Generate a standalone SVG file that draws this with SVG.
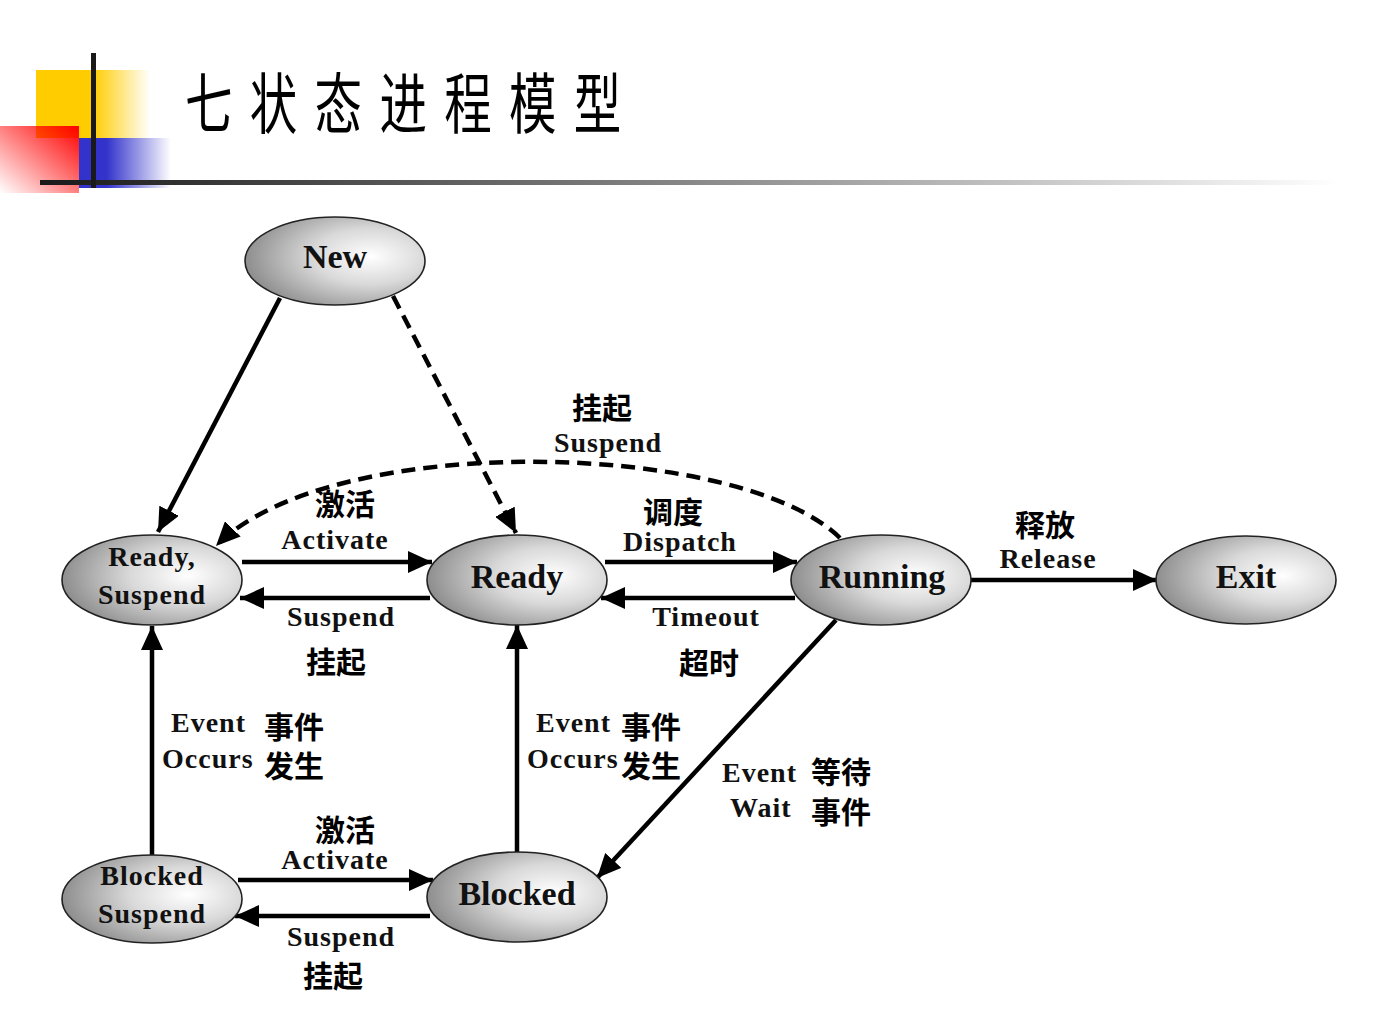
<svg xmlns="http://www.w3.org/2000/svg" width="1382" height="1034" viewBox="0 0 1382 1034">
<defs>
<radialGradient id="eg" cx="0.68" cy="0.45" r="0.7" fx="0.7" fy="0.45">
<stop offset="0" stop-color="#ffffff"/>
<stop offset="0.45" stop-color="#d9d9d9"/>
<stop offset="1" stop-color="#8a8a8a"/>
</radialGradient>
<linearGradient id="yel" x1="0" y1="0" x2="1" y2="0">
<stop offset="0" stop-color="#ffcc00"/>
<stop offset="0.5" stop-color="#ffcc00"/>
<stop offset="1" stop-color="#ffcc00" stop-opacity="0"/>
</linearGradient>
<linearGradient id="blu" x1="0" y1="0" x2="1" y2="0">
<stop offset="0" stop-color="#3333cc"/>
<stop offset="0.3" stop-color="#3333cc"/>
<stop offset="1" stop-color="#3333cc" stop-opacity="0"/>
</linearGradient>
<linearGradient id="red" x1="1" y1="0" x2="0" y2="1">
<stop offset="0" stop-color="#ff0000"/>
<stop offset="1" stop-color="#ff0000" stop-opacity="0"/>
</linearGradient>
<linearGradient id="hl" x1="0" y1="0" x2="1" y2="0">
<stop offset="0" stop-color="#1a1a1a"/>
<stop offset="0.5" stop-color="#888888"/>
<stop offset="1" stop-color="#ffffff"/>
</linearGradient>
<marker id="ah" markerUnits="userSpaceOnUse" markerWidth="26" markerHeight="22" refX="24" refY="11" orient="auto">
<path d="M0,0 L24,11 L0,22 z" fill="#000"/>
</marker>
</defs>
<style>
.node ellipse{fill:url(#eg);stroke:#222;stroke-width:1.6}
.nt{font-family:"Liberation Serif",serif;font-weight:bold;font-size:34px;text-anchor:middle;fill:#111}
.ns{font-family:"Liberation Serif",serif;font-weight:bold;font-size:28px;letter-spacing:1px;text-anchor:middle;fill:#111}
.el{font-family:"Liberation Serif",serif;font-weight:bold;font-size:28px;letter-spacing:1px;fill:#111}
.cl{font-family:"Noto Sans CJK SC","Noto Sans",sans-serif;font-weight:bold;font-size:30px;fill:#000}
.c{text-anchor:middle}
.ln{stroke:#000;stroke-width:4.5;fill:none;marker-end:url(#ah)}
.dash{stroke-dasharray:14 8}
</style>
<rect width="1382" height="1034" fill="#fff"/>
<g id="decor">
<rect x="36" y="70" width="114" height="68" fill="url(#yel)"/>
<rect x="79" y="138" width="92" height="50" fill="url(#blu)"/>
<rect x="0" y="126" width="79" height="67" fill="url(#red)"/>
<rect x="40" y="180" width="1300" height="5" fill="url(#hl)"/>
<rect x="91" y="53" width="5" height="135" fill="#1a1a1a"/>
</g>
<text id="title" transform="translate(185,128) scale(0.72,1)" font-family="'Noto Sans CJK SC',sans-serif" font-size="66" letter-spacing="24" fill="#000">七状态进程模型</text>
<g id="connectors">
<line class="ln" x1="280" y1="298" x2="158" y2="532"/>
<line class="ln dash" x1="393" y1="296" x2="516" y2="533"/>
<path class="ln dash" d="M840,538 C740,440 330,430 216,546"/>
<line class="ln" x1="242" y1="562" x2="432" y2="562"/>
<line class="ln" x1="430" y1="598" x2="240" y2="598"/>
<line class="ln" x1="605" y1="562" x2="797" y2="562"/>
<line class="ln" x1="795" y1="598" x2="601" y2="598"/>
<line class="ln" x1="971" y1="580" x2="1157" y2="580"/>
<line class="ln" x1="152" y1="855" x2="152" y2="626"/>
<line class="ln" x1="517" y1="852" x2="517" y2="625"/>
<line class="ln" x1="836" y1="620" x2="597" y2="878"/>
<line class="ln" x1="238" y1="880" x2="433" y2="880"/>
<line class="ln" x1="430" y1="916" x2="235" y2="916"/>
</g>
<g id="new" class="node"><ellipse cx="335" cy="261" rx="90" ry="44"/><text class="nt" x="335" y="268">New</text></g>
<g id="ready-suspend" class="node"><ellipse cx="152" cy="580" rx="90" ry="45"/><text class="ns" x="152" y="566">Ready,</text><text class="ns" x="152" y="604">Suspend</text></g>
<g id="ready" class="node"><ellipse cx="517" cy="580" rx="90" ry="45"/><text class="nt" x="517" y="588">Ready</text></g>
<g id="running" class="node"><ellipse cx="881" cy="580" rx="90" ry="45"/><text class="nt" x="882" y="588">Running</text></g>
<g id="exit" class="node"><ellipse cx="1246" cy="580" rx="90" ry="44"/><text class="nt" x="1246" y="588">Exit</text></g>
<g id="blocked-suspend" class="node"><ellipse cx="152" cy="899" rx="90" ry="44"/><text class="ns" x="152" y="885">Blocked</text><text class="ns" x="152" y="923">Suspend</text></g>
<g id="blocked" class="node"><ellipse cx="517" cy="897" rx="90" ry="45"/><text class="nt" x="517" y="905">Blocked</text></g>
<g id="labels">
<text class="cl c" x="602" y="419">挂起</text>
<text class="el c" x="608" y="452">Suspend</text>
<text class="cl c" x="345" y="515">激活</text>
<text class="el c" x="335" y="549">Activate</text>
<text class="cl c" x="673" y="523">调度</text>
<text class="el c" x="680" y="551">Dispatch</text>
<text class="cl c" x="1045" y="536">释放</text>
<text class="el c" x="1048" y="568">Release</text>
<text class="el c" x="341" y="626">Suspend</text>
<text class="cl c" x="336" y="673">挂起</text>
<text class="el c" x="706" y="626">Timeout</text>
<text class="cl c" x="709" y="674">超时</text>
<text class="el" x="171" y="732">Event</text>
<text class="cl" x="264" y="738">事件</text>
<text class="el" x="162" y="768">Occurs</text>
<text class="cl" x="264" y="777">发生</text>
<text class="el" x="536" y="732">Event</text>
<text class="cl" x="621" y="738">事件</text>
<text class="el" x="527" y="768">Occurs</text>
<text class="cl" x="621" y="777">发生</text>
<text class="el" x="722" y="782">Event</text>
<text class="cl" x="811" y="783">等待</text>
<text class="el" x="730" y="817">Wait</text>
<text class="cl" x="811" y="823">事件</text>
<text class="cl c" x="345" y="841">激活</text>
<text class="el c" x="335" y="869">Activate</text>
<text class="el c" x="341" y="946">Suspend</text>
<text class="cl c" x="333" y="987">挂起</text>
</g>
</svg>
